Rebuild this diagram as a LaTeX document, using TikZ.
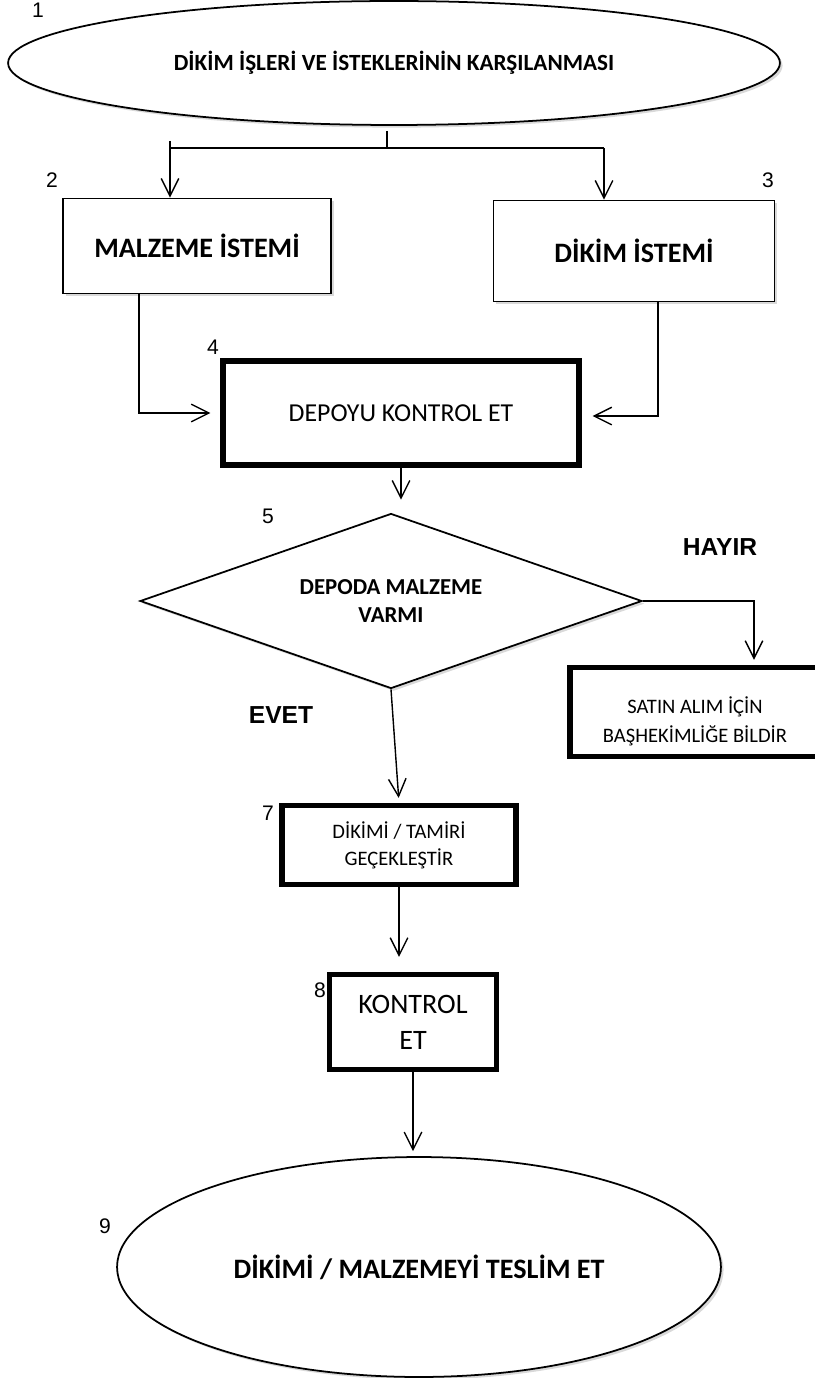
\documentclass[tikz,border=0pt]{standalone}
\usepackage{fontspec}
\setmainfont{Carlito}
\newfontfamily\arial{Liberation Sans}
\usetikzlibrary{shapes.geometric,arrows.meta,shadows}

\begin{document}
\begin{tikzpicture}[x=0.02cm,y=-0.02cm,
  >={Straight Barb[length=10pt,width=10pt]},
  ok/.style={line width=.8pt},
  ince/.style={draw,fill=white,line width=1pt,inner sep=0pt,align=center,
    drop shadow={opacity=.3,shadow xshift=1.5pt,shadow yshift=-1.5pt}},
  kalin/.style={draw,fill=white,line width=3pt,inner sep=0pt,align=center},
  no/.style={font=\arial\fontsize{12}{14}\selectfont},
  yazi/.style={font=\arial\bfseries\fontsize{14}{16}\selectfont}]
\useasboundingbox (0,0) rectangle (814,1378);
% baslangic ve istemler
\node[ince,ellipse,minimum width=15.44cm,minimum height=2.48cm,font=\bfseries\fontsize{13.2}{15}\selectfont] (basla) at (394,63) {DİKİM İŞLERİ VE İSTEKLERİNİN KARŞILANMASI};
\node[ince,minimum width=5.36cm,minimum height=1.9cm,font=\bfseries\fontsize{16}{19}\selectfont] (malzeme) at (197,246) {MALZEME İSTEMİ};
\node[ince,minimum width=5.62cm,minimum height=2.02cm,font=\bfseries\fontsize{16}{19}\selectfont] (dikim) at (634,251) {DİKİM İSTEMİ};
% depo ve karar
\node[kalin,minimum width=7.12cm,minimum height=2.08cm,font=\fontsize{14.7}{17}\selectfont] (depo) at (401,413) {DEPOYU KONTROL ET};
\node[ince,diamond,aspect=2.87,minimum width=10.04cm,minimum height=3.5cm,font=\bfseries\fontsize{13}{16}\selectfont] (karar) at (391,601) {DEPODA MALZEME\\VARMI};
\node[kalin,minimum width=5cm,minimum height=1.78cm,font=\fontsize{11.7}{16.4}\selectfont] (satin) at (695,712) {\rule{0pt}{20pt}SATIN ALIM İÇİN\\BAŞHEKİMLİĞE BİLDİR};
% dikim, kontrol, teslim
\node[kalin,minimum width=4.68cm,minimum height=1.58cm,font=\fontsize{11.7}{15.3}\selectfont] (tamir) at (399,845) {DİKİMİ / TAMİRİ\\GEÇEKLEŞTİR};
\node[kalin,minimum width=3.34cm,minimum height=1.9cm,font=\fontsize{16}{20.4}\selectfont] (kontrol) at (413,1022) {KONTROL\\ET};
\node[ince,ellipse,minimum width=12.08cm,minimum height=4.4cm,font=\bfseries\fontsize{16}{19}\selectfont] (son) at (419,1267) {DİKİMİ / MALZEMEYİ TESLİM ET};
% numaralar
\node[no] (n1) at (38,10) {1};
\node[no] (n2) at (52,180) {2};
\node[no] (n3) at (768,180) {3};
\node[no] (n4) at (213,347) {4};
\node[no] (n5) at (268,516) {5};
\node[no] (n7) at (268,813) {7};
\node[no] (n8) at (320,990) {8};
\node[no] (n9) at (105,1226) {9};
\node[yazi] (hayir) at (720,547) {HAYIR};
\node[yazi] (evet) at (281,715) {EVET};
% baglantilar
\coordinate (ust) at (387,131);
\coordinate (ayir) at (387,148);
\coordinate (solk) at (170,148);
\coordinate (sagk) at (604,148);
\draw[ok] (ust) -- (ayir);
\draw[ok] (solk) -- (sagk);
\draw[ok,->] ([yshift=4pt]solk) -- (solk |- malzeme.north);
\draw[ok,->] (sagk) -- (sagk |- dikim.north);
\draw[ok,->,shorten >=0.2cm] ([xshift=-1.16cm]malzeme.south) |- (depo.west);
\draw[ok,->,shorten >=0.22cm] ([xshift=0.48cm]dikim.south) |- ([yshift=-0.06cm]depo.east);
\draw[ok,->,shorten >=0.26cm] (depo.south) -- (depo.south |- karar.north);
\draw[ok,->,shorten >=0.1cm] (karar.east) -| ([xshift=1.18cm]satin.north);
\draw[ok,->,shorten >=0.1cm] (karar.south) -- (tamir.north);
\draw[ok,->,shorten >=0.3cm] (tamir.south) -- (tamir.south |- kontrol.north);
\draw[ok,->,shorten >=0.1cm] (kontrol.south) -- (kontrol.south |- son.north);
\end{tikzpicture}
\end{document}
